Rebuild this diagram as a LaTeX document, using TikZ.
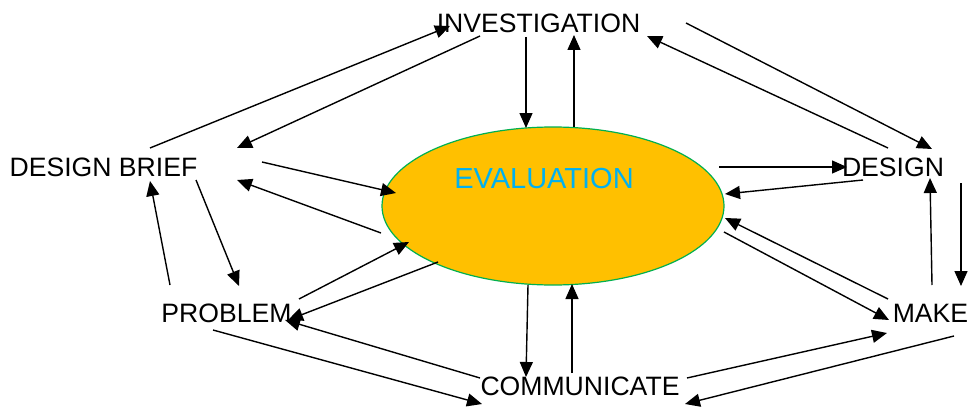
\documentclass[tikz,border=0pt]{standalone}
\usepackage{fontspec}
\setmainfont{Liberation Sans}
\usetikzlibrary{arrows.meta,shapes.geometric}
\definecolor{evalfill}{HTML}{FFC000}
\definecolor{evaledge}{HTML}{00B050}
\definecolor{evaltext}{HTML}{00B0F0}
\begin{document}
\begin{tikzpicture}[x=1pt,y=-1pt,
  lbl/.style={inner sep=0pt,font=\fontsize{26.6}{30}\selectfont},
  arr/.style={line width=1.4pt,-{Triangle[length=15pt,width=13pt]}}]
\useasboundingbox (0,0) rectangle (969,412);
\fill[white] (0,0) rectangle (969,412);
% ellipse
\node[draw=evaledge,fill=evalfill,line width=1.2pt,ellipse,minimum width=342pt,minimum height=158pt,inner sep=0pt] (ev) at (553,206) {};
\node[inner sep=0pt,font=\fontsize{29}{33}\selectfont,text=evaltext] (evt) at (544,178.5) {EVALUATION};
% labels
\node[lbl] (inv) at (538.5,23) {INVESTIGATION};
\node[lbl] (db) at (103.5,167.5) {DESIGN BRIEF};
\node[lbl] (des) at (893,167.5) {DESIGN};
\node[lbl] (prob) at (226.5,313.5) {PROBLEM};
\node[lbl] (make) at (930.5,313.5) {MAKE};
\node[lbl] (comm) at (580,386) {COMMUNICATE};
% endpoints
\coordinate (a1s) at (150,148); \coordinate (a1e) at (450,26);
\coordinate (a2s) at (480,36);  \coordinate (a2e) at (237,148);
\coordinate (a3s) at (262,162); \coordinate (a3e) at (396,193);
\coordinate (a4s) at (381,233); \coordinate (a4e) at (237,180);
\coordinate (a5s) at (170,285); \coordinate (a5e) at (150,181);
\coordinate (a6s) at (196,180); \coordinate (a6e) at (239,286);
\coordinate (b1s) at (526,37);  \coordinate (b1e) at (526,128);
\coordinate (b2s) at (574,127); \coordinate (b2e) at (574,35);
\coordinate (b3s) at (686,23);  \coordinate (b3e) at (932,149);
\coordinate (b4s) at (888,148); \coordinate (b4e) at (647,36);
\coordinate (b5s) at (719,167); \coordinate (b5e) at (847,167);
\coordinate (b6s) at (863,180); \coordinate (b6e) at (725,194);
\coordinate (b7s) at (932,285); \coordinate (b7e) at (930,178);
\coordinate (b8s) at (961,183); \coordinate (b8e) at (961,286);
\coordinate (c1s) at (299,299); \coordinate (c1e) at (409,242);
\coordinate (c2s) at (438,262); \coordinate (c2e) at (288,320);
\coordinate (c3s) at (480,378); \coordinate (c3e) at (285,320);
\coordinate (c4s) at (213,330); \coordinate (c4e) at (482,404);
\coordinate (d1s) at (528,285); \coordinate (d1e) at (526,377);
\coordinate (d2s) at (572,373); \coordinate (d2e) at (572,284);
\coordinate (d3s) at (888,299); \coordinate (d3e) at (725,218);
\coordinate (d4s) at (724,232); \coordinate (d4e) at (889,320);
\coordinate (d5s) at (687,378); \coordinate (d5e) at (887,333);
\coordinate (d6s) at (954,336); \coordinate (d6e) at (685,404);
\foreach \a in {a1,a2,a3,a4,a5,a6,b1,b2,b3,b4,b5,b6,b7,b8,c1,c2,c3,c4,d1,d2,d3,d4,d5,d6}
  \draw[arr] (\a s) -- (\a e);
\end{tikzpicture}
\end{document}
